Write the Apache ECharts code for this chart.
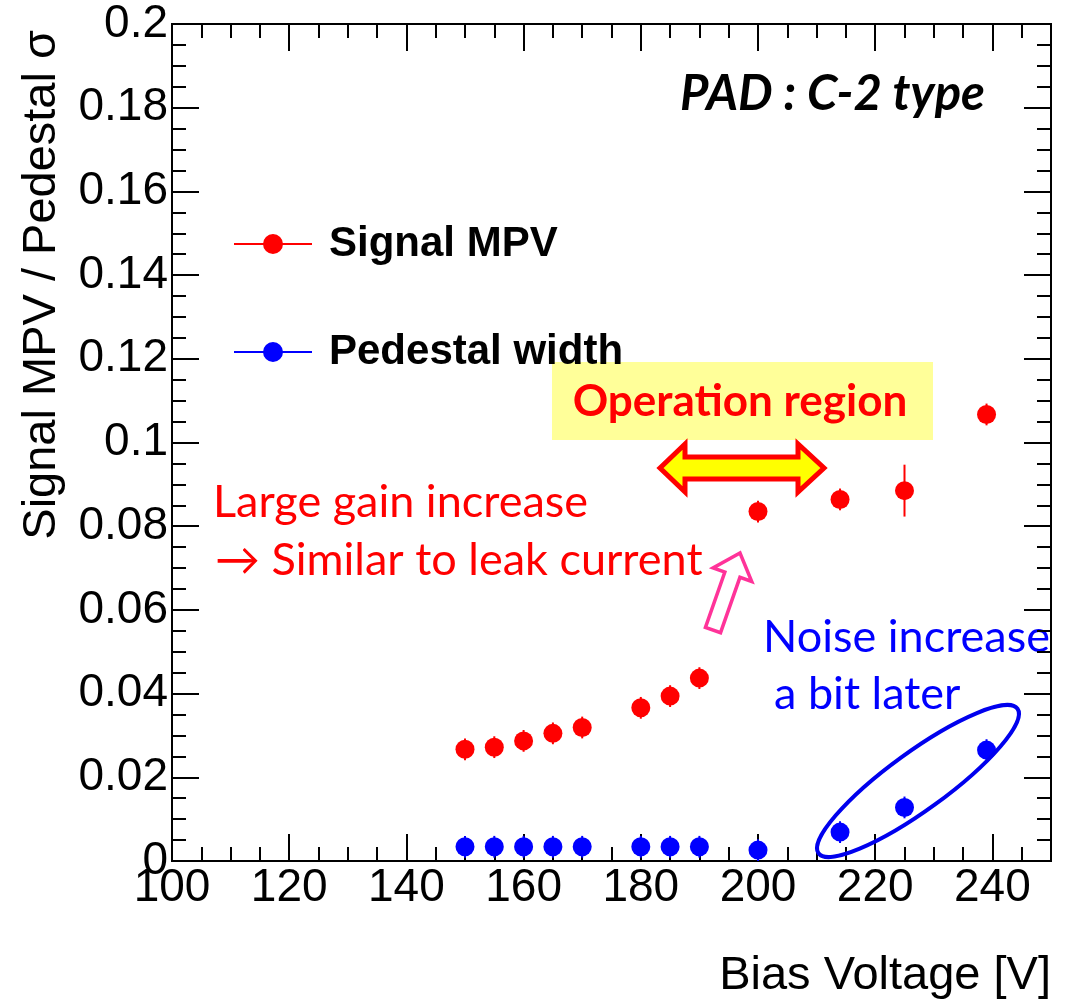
<!DOCTYPE html>
<html>
<head>
<meta charset="utf-8">
<title>Signal MPV / Pedestal width vs Bias Voltage</title>
<script src="https://cdn.jsdelivr.net/npm/echarts@6/dist/echarts.min.js"></script>
<style>
  html, body { margin: 0; padding: 0; background: #ffffff; }
  #chart { width: 1074px; height: 1005px; }
</style>
</head>
<body>
<div id="chart"></div>
<script>
// Measured points: bias voltage [V] and the two ratios with their errors
const biasVoltage   = [150, 155, 160, 165, 170, 180, 185, 190, 200, 214, 225, 239];
const signalMPV     = [0.0267, 0.0272, 0.0287, 0.0305, 0.0319, 0.0366, 0.0394, 0.0437, 0.0835, 0.0864, 0.0885, 0.1067];
const signalErr     = [0.0026, 0.0026, 0.0026, 0.0026, 0.0026, 0.0026, 0.0026, 0.0026, 0.0026, 0.0026, 0.0062, 0.0026];
const pedestalWidth = [0.0034, 0.0034, 0.0034, 0.0034, 0.0034, 0.0034, 0.0034, 0.0034, 0.0026, 0.0069, 0.0128, 0.0265];
const pedestalErr   = [0.0026, 0.0026, 0.0026, 0.0026, 0.0026, 0.0026, 0.0026, 0.0026, 0.0026, 0.0026, 0.0026, 0.0026];

const seriesNames = ['Signal MPV', 'Pedestal width'];
const xRange = [100, 250];
const yRange = [0, 0.2];
const xMajorStep = 20, xMinorStep = 5;
const yMajorStep = 0.02, yMinorStep = 0.005;

const RED = '#ff0000';
const BLUE = '#0000ff';
const AXIS_FONT = 'Liberation Sans, Arial, Helvetica, sans-serif';
const NOTE_FONT = 'Lato, "Open Sans", sans-serif';

const chart = echarts.init(document.getElementById('chart'), null, { renderer: 'canvas' });

// Frame: major/minor tick axes on all four sides, ticks pointing inward
function xAxisDef(position, step, tickLen, withLabels) {
  return {
    type: 'value', position: position, min: xRange[0], max: xRange[1], interval: step,
    axisLine: { show: true, onZero: false, lineStyle: { color: '#000', width: 2 } },
    axisTick: { show: true, inside: true, length: tickLen, lineStyle: { color: '#000', width: 2 } },
    axisLabel: withLabels ? {
      show: true, fontSize: 46, fontFamily: AXIS_FONT, color: '#000', margin: 4,
      showMinLabel: true, showMaxLabel: false
    } : { show: false },
    splitLine: { show: false }
  };
}
function yAxisDef(position, step, tickLen, withLabels) {
  return {
    type: 'value', position: position, min: yRange[0], max: yRange[1], interval: step,
    axisLine: { show: true, onZero: false, lineStyle: { color: '#000', width: 2 } },
    axisTick: { show: true, inside: true, length: tickLen, lineStyle: { color: '#000', width: 2 } },
    axisLabel: withLabels ? {
      show: true, fontSize: 46, fontFamily: AXIS_FONT, color: '#000', margin: 4,
      showMinLabel: true, showMaxLabel: true,
      formatter: function (v) { return String(+v.toFixed(3)); }
    } : { show: false },
    splitLine: { show: false }
  };
}

// Vertical error bars
function errorBarSeries(values, errors, color) {
  return {
    type: 'custom',
    xAxisIndex: 0, yAxisIndex: 0,
    silent: true, z: 2,
    data: biasVoltage.map(function (v, i) { return [v, values[i] - errors[i], values[i] + errors[i]]; }),
    encode: { x: 0, y: [1, 2] },
    renderItem: function (params, api) {
      const lo = api.coord([api.value(0), api.value(1)]);
      const hi = api.coord([api.value(0), api.value(2)]);
      return {
        type: 'line',
        shape: { x1: lo[0], y1: lo[1], x2: hi[0], y2: hi[1] },
        style: { stroke: color, lineWidth: 2, opacity: 1 }
      };
    }
  };
}

// Legend icon: a short line with a filled marker in the middle
const legendIcon = 'path://M0,9 L78,9 L78,11 L0,11 Z M29,10 A10,10 0 1,1 49,10 A10,10 0 1,1 29,10 Z';

function legendDef(name, top) {
  return {
    data: [name], left: 234, top: top, orient: 'horizontal', padding: 0,
    icon: legendIcon, itemWidth: 78, itemHeight: 20, selectedMode: false,
    itemStyle: { opacity: 1 },
    textStyle: { fontSize: 42, fontWeight: 'bold', fontFamily: AXIS_FONT, color: '#000', lineHeight: 20, padding: [0, 0, 0, 12] }
  };
}

// Hollow pink arrow pointing up-right
function hollowArrow(tail, tip, shaftHalf, headHalf, headLen) {
  const dx = tip[0] - tail[0], dy = tip[1] - tail[1];
  const len = Math.sqrt(dx * dx + dy * dy);
  const u = [dx / len, dy / len];
  const n = [-u[1], u[0]];
  const base = [tail[0] + u[0] * (len - headLen), tail[1] + u[1] * (len - headLen)];
  const p = function (o, k) { return [o[0] + n[0] * k, o[1] + n[1] * k]; };
  return [p(tail, -shaftHalf), p(base, -shaftHalf), p(base, -headHalf), tip,
          p(base, headHalf), p(base, shaftHalf), p(tail, shaftHalf)];
}

const option = {
  backgroundColor: '#ffffff',
  animation: false,
  grid: { left: 172, top: 24, width: 879, height: 837, containLabel: false, outerBoundsMode: 'none' },
  xAxis: [
    xAxisDef('bottom', xMajorStep, 27, true),
    xAxisDef('bottom', xMinorStep, 14, false),
    xAxisDef('top', xMajorStep, 27, false),
    xAxisDef('top', xMinorStep, 14, false)
  ],
  yAxis: [
    yAxisDef('left', yMajorStep, 27, true),
    yAxisDef('left', yMinorStep, 14, false),
    yAxisDef('right', yMajorStep, 27, false),
    yAxisDef('right', yMinorStep, 14, false)
  ],
  legend: [legendDef(seriesNames[0], 223), legendDef(seriesNames[1], 331)],
  series: [
    errorBarSeries(signalMPV, signalErr, RED),
    errorBarSeries(pedestalWidth, pedestalErr, BLUE),
    {
      name: seriesNames[0], type: 'scatter', xAxisIndex: 0, yAxisIndex: 0, z: 3,
      symbol: 'circle', symbolSize: 19, itemStyle: { color: RED, opacity: 1 },
      emphasis: { disabled: true },
      data: biasVoltage.map(function (v, i) { return [v, signalMPV[i]]; })
    },
    {
      name: seriesNames[1], type: 'scatter', xAxisIndex: 0, yAxisIndex: 0, z: 3,
      symbol: 'circle', symbolSize: 19, itemStyle: { color: BLUE, opacity: 1 },
      emphasis: { disabled: true },
      data: biasVoltage.map(function (v, i) { return [v, pedestalWidth[i]]; })
    }
  ],
  graphic: [
    // axis titles
    {
      type: 'text', x: 42, y: 30, rotation: Math.PI / 2,
      style: { text: 'Signal MPV / Pedestal σ', fontSize: 47, fontFamily: AXIS_FONT, fill: '#000', align: 'right', verticalAlign: 'middle' }
    },
    {
      type: 'text', x: 1051, y: 976,
      style: { text: 'Bias Voltage [V]', fontSize: 47, fontFamily: AXIS_FONT, fill: '#000', align: 'right', verticalAlign: 'middle' }
    },
    // detector label
    {
      type: 'text', x: 680, y: 94,
      style: { text: 'PAD : C-2 type', fontSize: 49, fontWeight: 'bold', fontStyle: 'italic', fontFamily: NOTE_FONT, fill: '#000', align: 'left', verticalAlign: 'middle' }
    },
    // operation region box and double arrow
    {
      type: 'rect', shape: { x: 552, y: 362, width: 381, height: 78 },
      style: { fill: '#ffff99' }
    },
    {
      type: 'text', x: 740, y: 402,
      style: { text: 'Operation region', fontSize: 44, fontWeight: 'bold', fontFamily: NOTE_FONT, fill: RED, align: 'center', verticalAlign: 'middle' }
    },
    {
      type: 'polygon',
      shape: { points: [[660, 468], [685, 444], [685, 457], [798, 457], [798, 444], [824, 468], [798, 492], [798, 479], [685, 479], [685, 492]] },
      style: { fill: '#ffff00', stroke: RED, lineWidth: 5, lineJoin: 'miter' }
    },
    // gain note
    {
      type: 'text', x: 213, y: 502,
      style: { text: 'Large gain increase', fontSize: 45, fontFamily: NOTE_FONT, fill: RED, align: 'left', verticalAlign: 'middle' }
    },
    {
      type: 'text', x: 215, y: 560,
      style: { text: '→ Similar to leak current', fontSize: 45, fontFamily: NOTE_FONT, fill: RED, align: 'left', verticalAlign: 'middle' }
    },
    {
      type: 'polygon',
      shape: { points: hollowArrow([713, 630], [740, 553], 8, 20.5, 23) },
      style: { fill: '#ffffff', stroke: '#ff3399', lineWidth: 3.5, lineJoin: 'miter' }
    },
    // noise note
    {
      type: 'text', x: 763, y: 637,
      style: { text: 'Noise increase', fontSize: 45, fontFamily: NOTE_FONT, fill: BLUE, align: 'left', verticalAlign: 'middle' }
    },
    {
      type: 'text', x: 774, y: 694,
      style: { text: 'a bit later', fontSize: 45, fontFamily: NOTE_FONT, fill: BLUE, align: 'left', verticalAlign: 'middle' }
    },
    {
      type: 'ellipse', x: 918, y: 781, rotation: 36 * Math.PI / 180,
      shape: { cx: 0, cy: 0, rx: 123, ry: 29 },
      style: { fill: 'none', stroke: '#0000ee', lineWidth: 4 },
      z: 10
    }
  ]
};

chart.setOption(option);
</script>
</body>
</html>
